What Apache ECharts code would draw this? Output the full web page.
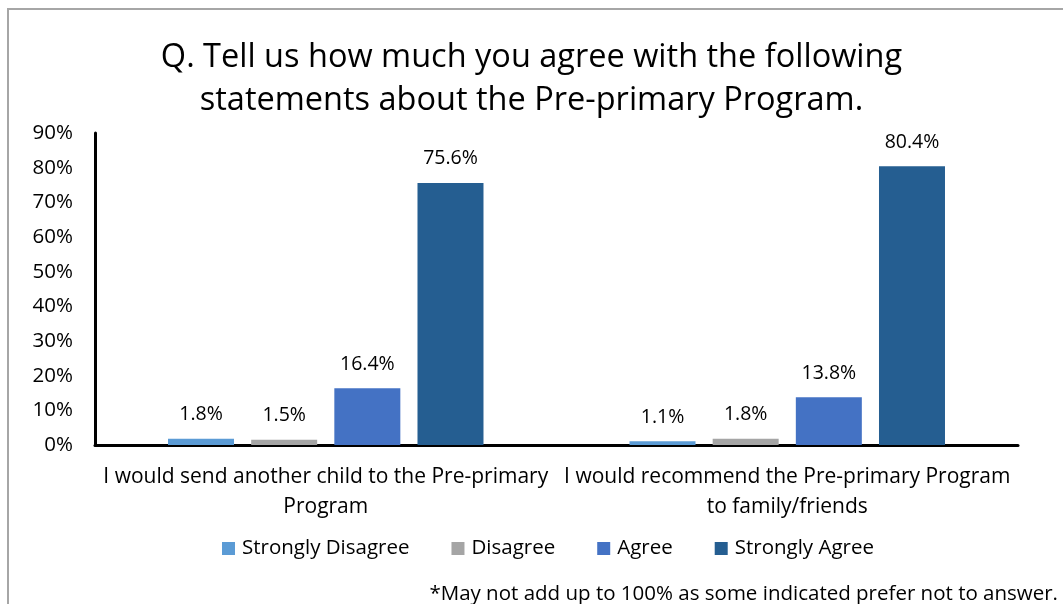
<!DOCTYPE html>
<html>
<head>
<meta charset="utf-8">
<script src="https://cdn.jsdelivr.net/npm/echarts@6/dist/echarts.min.js"></script>
<style>
  html, body { margin: 0; padding: 0; background: #fff; }
  #chart { width: 1063px; height: 604px; }
</style>
</head>
<body>
<div id="chart"></div>
<script>
// Survey statements (x-axis categories)
const categories = [
  'I would send another child to the Pre-primary\nProgram',
  'I would recommend the Pre-primary Program\nto family/friends'
];
// Response shares (%) per answer
const stronglyDisagree = [1.8, 1.1];
const disagree = [1.5, 1.8];
const agree = [16.4, 13.8];
const stronglyAgree = [75.6, 80.4];
const seriesNames = ['Strongly Disagree', 'Disagree', 'Agree', 'Strongly Agree'];
const seriesColors = ['#5B9BD5', '#A5A5A5', '#4472C4', '#255E91'];

const FONT = '"Open Sans"';
const chart = echarts.init(document.getElementById('chart'));

function barSeries(name, data, color) {
  return {
    name: name,
    type: 'bar',
    data: data,
    barWidth: 66,
    barGap: '26%',
    itemStyle: { color: color },
    label: {
      show: true,
      position: 'top',
      distance: 14,
      formatter: p => p.value.toFixed(1) + '%',
      color: '#000',
      fontSize: 19.5,
      fontFamily: FONT
    }
  };
}

chart.setOption({
  animation: false,
  backgroundColor: '#fff',
  textStyle: { fontFamily: FONT },
  title: {
    text: 'Q. Tell us how much you agree with the following\nstatements about the Pre-primary Program.',
    left: 'center',
    top: 31,
    textStyle: { fontSize: 32.5, fontWeight: 'normal', color: '#000', lineHeight: 43, fontFamily: FONT }
  },
  legend: {
    data: seriesNames,
    bottom: 40,
    left: 217,
    itemWidth: 13,
    itemHeight: 13,
    itemGap: 42,
    icon: 'rect',
    textStyle: { fontSize: 20.5, color: '#000', fontFamily: FONT, padding: [0, 0, 0, 2] }
  },
  grid: { left: 95, right: 45, top: 133, bottom: 159, containLabel: false },
  xAxis: {
    type: 'category',
    data: categories,
    axisLine: { lineStyle: { color: '#000', width: 3 } },
    axisTick: { show: false },
    axisLabel: { color: '#000', fontSize: 21, lineHeight: 30, margin: 17, fontFamily: FONT, interval: 0 }
  },
  yAxis: {
    type: 'value',
    min: 0,
    max: 90,
    interval: 10,
    axisLine: { show: true, lineStyle: { color: '#000', width: 3 } },
    axisTick: { show: false },
    splitLine: { show: false },
    axisLabel: { formatter: '{value}%', color: '#000', fontSize: 20.5, margin: 22, fontFamily: FONT }
  },
  series: [
    barSeries(seriesNames[0], stronglyDisagree, seriesColors[0]),
    barSeries(seriesNames[1], disagree, seriesColors[1]),
    barSeries(seriesNames[2], agree, seriesColors[2]),
    barSeries(seriesNames[3], stronglyAgree, seriesColors[3])
  ],
  graphic: [
    // Frame around the chart
    {
      type: 'polyline',
      shape: { points: [[8, 604], [8, 9], [1063, 9]] },
      style: { stroke: '#a6a6a6', lineWidth: 2, fill: null }
    },
    // Footnote under the legend
    {
      type: 'text',
      right: 5,
      top: 584,
      style: {
        text: '*May not add up to 100% as some indicated prefer not to answer.',
        fill: '#000',
        font: '20.5px ' + FONT
      }
    }
  ]
});
</script>
</body>
</html>
